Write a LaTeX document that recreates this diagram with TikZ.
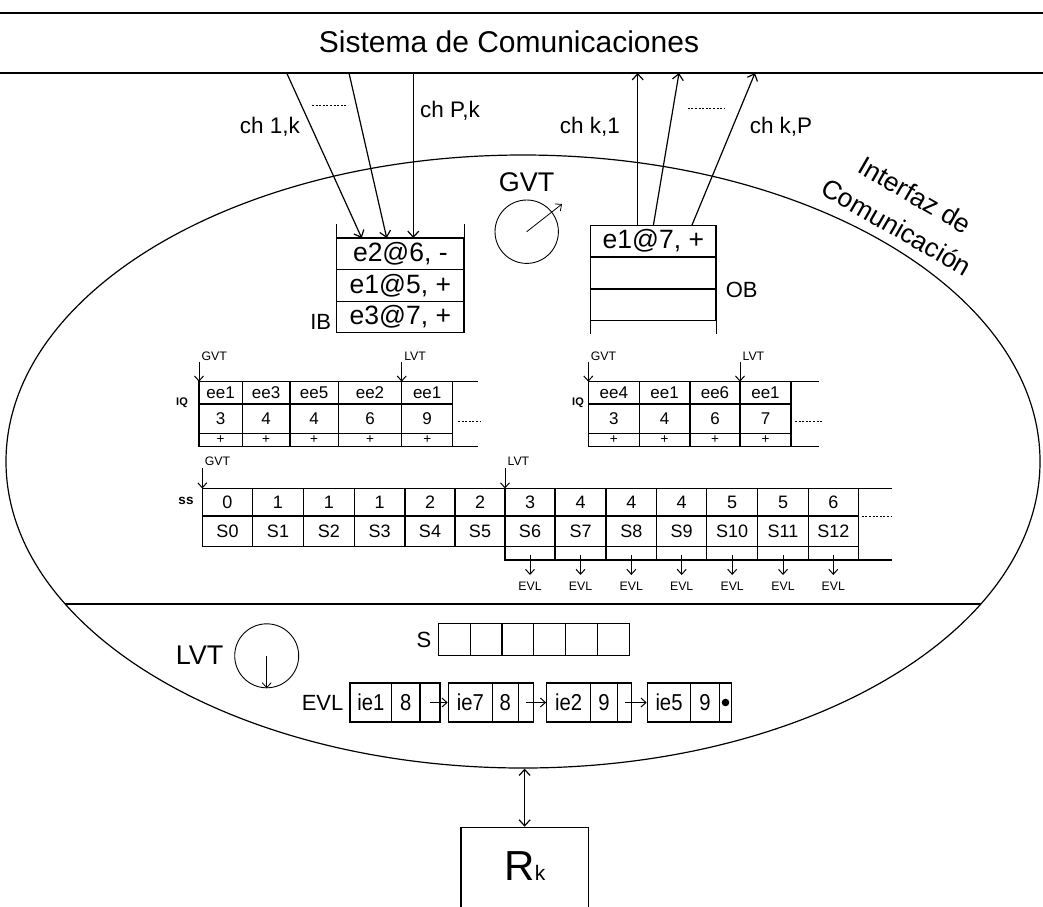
\documentclass[tikz,border=0pt]{standalone}
\usepackage{fontspec}
\usepackage{graphicx}
\setmainfont{Liberation Sans}
\newfontfamily\narrowfont{Liberation Sans}[FakeStretch=0.88]
\usetikzlibrary{arrows.meta,shapes.geometric}
\newcommand\myfs[1]{\fontsize{#1}{#1}\selectfont}
\begin{document}
\begin{tikzpicture}[x=1pt,y=-1pt,line width=1.2pt,
  arr/.style={-{Straight Barb[length=6pt,width=11pt]}},
  darr/.style={{Straight Barb[length=6pt,width=11pt]}-{Straight Barb[length=6pt,width=11pt]}},
  tarr/.style={line width=0.8pt,-{Straight Barb[length=5pt,width=9pt]}},
  sarr/.style={line width=1pt,-{Straight Barb[length=5pt,width=9pt]}},
  dots/.style={line width=0.9pt,dash pattern=on 2pt off 1.6pt},
  lbl/.style={inner sep=0pt},
  small/.style={inner sep=0pt,font=\myfs{12.3}},
  bsmall/.style={inner sep=0pt,font=\bfseries\myfs{11}},
  iqt/.style={inner sep=0pt,font=\myfs{17}},
  pt/.style={inner sep=0pt,font=\myfs{13.5}},
  sst/.style={inner sep=0pt,font=\myfs{18}},
  bufrow/.style={draw,inner sep=0pt,minimum width=127.3pt,minimum height=31.5pt,font=\myfs{26.5}},
  evc/.style={draw,inner sep=0pt,minimum height=39pt,font=\narrowfont\myfs{23}},
  scell/.style={draw,inner sep=0pt,minimum width=31.83pt,minimum height=32.4pt}
]
\useasboundingbox (0,0) rectangle (1043,906);

% communication system
\draw (0,13) -- (1043,13);
\draw (0,73) -- (1043,73);
\node[lbl,font=\myfs{30}] (sys) at (509,42) {Sistema de Comunicaciones};

% interface ellipse
\node[draw,ellipse,inner sep=0pt,minimum width=1034pt,minimum height=613pt] (iface) at (523,461.5) {};
\begin{scope}
  \clip (523,461.5) ellipse [x radius=517pt, y radius=306.5pt];
  \draw (0,604) -- (1043,604);
\end{scope}
\node[lbl,font=\fontsize{26.5}{37}\selectfont,align=center,rotate=-30] (ifl) at (906,211) {Interfaz de\\Comunicación};

% input buffer
\node[bufrow] (ib1) at (400.35,253.8) {e2@6, -};
\node[bufrow] (ib2) at (400.35,285.5) {e1@5, +};
\node[bufrow] (ib3) at (400.35,317) {e3@7, +};
\draw (ib1.north west) -- ++(0,-13);
\draw (ib1.north east) -- ++(0,-13);
\node[lbl,font=\myfs{22}] (ibl) at (320.7,322) {IB};

% input channels
\coordinate (i1s) at (286.7,73);
\coordinate (i2s) at (349,73);
\coordinate (i3s) at (413.3,73);
\coordinate (i1e) at (361.7,238);
\coordinate (i2e) at (386.7,238);
\coordinate (i3e) at (413.3,238);
\draw[arr] (i1s) -- (i1e);
\draw[arr] (i2s) -- (i2e);
\draw[arr] (i3s) -- (i3e);
\node[lbl,font=\myfs{22.5}] (c1k) at (270,127) {ch 1,k};
\node[lbl,font=\myfs{22.5}] (cpk) at (450,111) {ch P,k};
\draw[dots] (312,105) -- (348,105);

% GVT clock
\node[draw,circle,line width=0.9pt,inner sep=0pt,minimum size=63.4pt] (gvtc) at (526.7,231.7) {};
\coordinate (gvte) at (562,204);
\draw[tarr] (gvtc.center) -- (gvte);
\node[lbl,font=\myfs{27}] (gvtl) at (526.7,181.7) {GVT};

% output buffer
\node[bufrow,minimum width=125.3pt] (ob1) at (653.35,241.2) {e1@7, +};
\node[bufrow,minimum width=125.3pt] (ob2) at (653.35,272.7) {};
\node[bufrow,minimum width=125.3pt] (ob3) at (653.35,304.7) {};
\draw (ob3.south west) -- ++(0,12.6);
\draw (ob3.south east) -- ++(0,12.6);
\node[lbl,font=\myfs{22}] (obl) at (741.7,290) {OB};

% output channels
\coordinate (o1s) at (637.7,225.7);
\coordinate (o2s) at (653.3,225.7);
\coordinate (o3s) at (691.7,225.7);
\coordinate (o1e) at (637.7,73);
\coordinate (o2e) at (679,73);
\coordinate (o3e) at (755,73);
\draw[arr] (o1s) -- (o1e);
\draw[arr] (o2s) -- (o2e);
\draw[arr] (o3s) -- (o3e);
\node[lbl,font=\myfs{22.5}] (ck1) at (590,127) {ch k,1};
\node[lbl,font=\myfs{22.5}] (ckp) at (781,127) {ch k,P};
\draw[dots] (687.7,108.3) -- (724,108.3);

% left IQ
\foreach \a/\b/\t/\n [count=\i] in {199/242.3/ee1/3, 242.3/290/ee3/4, 290/338.3/ee5/4, 338.3/401.7/ee2/6, 401.7/452.7/ee1/9}{
  \draw (\a,381.7) rectangle (\b,404);
  \draw (\a,404) rectangle (\b,433.3);
  \draw (\a,433.3) rectangle (\b,446.7);
  \node[iqt] (lqe\i) at ({(\a+\b)/2},392.85) {\t};
  \node[iqt] (lqn\i) at ({(\a+\b)/2},418.65) {\n};
  \node[pt] (lqp\i) at ({(\a+\b)/2},440) {+};
}
\draw (452.7,381.7) -- (478.3,381.7);
\draw (452.7,446.7) -- (478.3,446.7);
\draw[dots] (458,421.7) -- (480,421.7);
\node[bsmall] (lqlab) at (182,403) {IQ};
\coordinate (lqgs) at (199,361.7);
\coordinate (lqge) at (199,381.7);
\coordinate (lqls) at (401.7,361.7);
\coordinate (lqle) at (401.7,381.7);
\draw[sarr] (lqgs) -- (lqge);
\draw[sarr] (lqls) -- (lqle);
\node[small,anchor=west] (lqgl) at (201,356.7) {GVT};
\node[small,anchor=west] (lqll) at (403.7,356.7) {LVT};

% right IQ
\foreach \a/\b/\t/\n [count=\i] in {588.3/639.3/ee4/3, 639.3/690/ee1/4, 690/740/ee6/6, 740/791/ee1/7}{
  \draw (\a,381.7) rectangle (\b,404);
  \draw (\a,404) rectangle (\b,433.3);
  \draw (\a,433.3) rectangle (\b,446.7);
  \node[iqt] (rqe\i) at ({(\a+\b)/2},392.85) {\t};
  \node[iqt] (rqn\i) at ({(\a+\b)/2},418.65) {\n};
  \node[pt] (rqp\i) at ({(\a+\b)/2},440) {+};
}
\draw (791,381.7) -- (819.3,381.7);
\draw (791,446.7) -- (819.3,446.7);
\draw[dots] (795,421.7) -- (821.7,421.7);
\node[bsmall] (rqlab) at (578,403) {IQ};
\coordinate (rqgs) at (588.3,361.7);
\coordinate (rqge) at (588.3,381.7);
\coordinate (rqls) at (740,361.7);
\coordinate (rqle) at (740,381.7);
\draw[sarr] (rqgs) -- (rqge);
\draw[sarr] (rqls) -- (rqle);
\node[small,anchor=west] (rqgl) at (590.3,356.7) {GVT};
\node[small,anchor=west] (rqll) at (742,356.7) {LVT};

% state queue
\foreach \a/\b/\v [count=\i from 0] in {202.3/252.7/0, 252.7/303.3/1, 303.3/354.3/1, 354.3/405/1, 405/455/2, 455/505/2, 505/555/3, 555/606/4, 606/656.7/4, 656.7/706.7/4, 706.7/757.7/5, 757.7/808.3/5, 808.3/858.3/6}{
  \draw (\a,488.5) rectangle (\b,516);
  \draw (\a,516) rectangle (\b,546.7);
  \node[sst] (ssv\i) at ({(\a+\b)/2},502.25) {\v};
  \node[sst] (sss\i) at ({(\a+\b)/2},531.35) {S\i};
  \ifnum\i>5
    \draw (\a,546.7) rectangle (\b,560);
    \coordinate (evs\i) at ({(\a+\b)/2},555);
    \coordinate (eve\i) at ({(\a+\b)/2},575);
    \draw[sarr] (evs\i) -- (eve\i);
    \node[small] (evl\i) at ({(\a+\b)/2},586.7) {EVL};
  \fi
}
\draw (858.3,488.5) -- (891.7,488.5);
\draw (858.3,560) -- (891.7,560);
\draw[dots] (861.7,516) -- (891.7,516);
\node[inner sep=0pt,font=\bfseries\myfs{13.5}] (sslab) at (186,501) {ss};
\coordinate (ssgs) at (202.3,468);
\coordinate (ssge) at (202.3,488.5);
\coordinate (ssls) at (505,468);
\coordinate (ssle) at (505,488.5);
\draw[sarr] (ssgs) -- (ssge);
\draw[sarr] (ssls) -- (ssle);
\node[small,anchor=west] (ssgl) at (204.3,461.7) {GVT};
\node[small,anchor=west] (ssll) at (507,461.7) {LVT};

% LVT clock
\node[draw,circle,line width=0.9pt,inner sep=0pt,minimum size=64pt] (lvtc) at (266.7,655.8) {};
\draw[tarr] (lvtc.center) -- (lvtc.south);
\node[lbl,font=\myfs{27},anchor=east] (lvtl) at (224,655) {LVT};

% S array
\foreach \i in {1,...,6}{
  \node[scell] (sc\i) at ({438.3+31.83*(\i-0.5)},639.5) {};
}
\node[lbl,font=\myfs{22},anchor=east] (slab) at (432,640) {S};

% event list
\node[lbl,font=\myfs{22},anchor=east] (evlab) at (344,703) {EVL};
\node[evc,minimum width=41.7pt] (e1a) at (370.85,702.5) {ie1};
\node[evc,minimum width=28.3pt] (e1b) at (405.85,702.5) {8};
\node[evc,minimum width=20pt] (e1c) at (430,702.5) {};
\node[evc,minimum width=44pt] (e2a) at (470.3,702.5) {ie7};
\node[evc,minimum width=26pt] (e2b) at (505.3,702.5) {8};
\node[evc,minimum width=15pt] (e2c) at (525.8,702.5) {};
\node[evc,minimum width=44pt] (e3a) at (568.7,702.5) {ie2};
\node[evc,minimum width=26.6pt] (e3b) at (604,702.5) {9};
\node[evc,minimum width=14.4pt] (e3c) at (624.5,702.5) {};
\node[evc,minimum width=43.4pt] (e4a) at (669,702.5) {ie5};
\node[evc,minimum width=28.6pt] (e4b) at (705,702.5) {9};
\node[evc,minimum width=12.4pt] (e4c) at (725.5,702.5) {};
\fill (e4c.center) circle [radius=3.8pt];
\draw[sarr] (e1c.center) -- (e2a.west);
\draw[sarr] (e2c.center) -- (e3a.west);
\draw[sarr] (e3c.center) -- (e4a.west);

% resource
\node[draw,inner sep=0pt,minimum width=127.3pt,minimum height=90pt] (rk) at (524.6,872.3) {};
\node[lbl,anchor=base] (rkl) at (525,880) {\myfs{42}R\myfs{21}k};
\draw[darr] (rk.north |- iface.south) -- (rk.north);
\end{tikzpicture}
\end{document}
